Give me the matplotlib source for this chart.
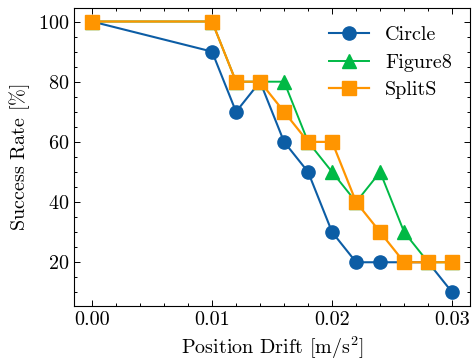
import matplotlib
matplotlib.use("Agg")
import matplotlib.pyplot as plt
from matplotlib.ticker import MultipleLocator

# position drift values
drift = [0.0, 0.01, 0.012, 0.014, 0.016, 0.018, 0.02, 0.022, 0.024, 0.026, 0.028, 0.03]

circle = [100, 90, 70, 80, 60, 50, 30, 20, 20, 20, 20, 10]
figure8 = [100, 100, 80, 80, 80, 60, 50, 40, 50, 30, 20, 20]
splits = [100, 100, 80, 80, 70, 60, 60, 40, 30, 20, 20, 20]

plt.rcParams.update({
    "font.family": "serif",
    "font.serif": ["cmr10"],
    "mathtext.fontset": "cm",
    "axes.formatter.use_mathtext": True,
    "font.size": 14.5,
    "axes.linewidth": 0.8,
    "xtick.direction": "in",
    "ytick.direction": "in",
    "xtick.top": True,
    "ytick.right": True,
    "xtick.major.size": 4.5,
    "ytick.major.size": 4.5,
    "xtick.minor.size": 2.5,
    "ytick.minor.size": 2.5,
    "xtick.major.width": 0.7,
    "ytick.major.width": 0.7,
    "xtick.minor.width": 0.7,
    "ytick.minor.width": 0.7,
})

fig, ax = plt.subplots(figsize=(4.74, 3.62), dpi=100)

ax.plot(drift, circle, marker="o", color="#0C5DA5", lw=1.5, ms=9.5, label="Circle")
ax.plot(drift, figure8, marker="^", color="#00B945", lw=1.4, ms=9.5, label="Figure8")
ax.plot(drift, splits, marker="s", color="#FF9500", lw=1.6, ms=9.5, label="SplitS")

ax.xaxis.set_major_locator(MultipleLocator(0.01))
ax.xaxis.set_minor_locator(MultipleLocator(0.002))
ax.yaxis.set_major_locator(MultipleLocator(20))
ax.yaxis.set_minor_locator(MultipleLocator(5))
ax.xaxis.set_major_formatter(matplotlib.ticker.FormatStrFormatter("%.2f"))

ax.set_xlabel(r"Position Drift [m/s$^2$]")
ax.set_ylabel(r"Success Rate [$\%$]")
ax.legend(frameon=False, loc="upper right", handlelength=2.0, labelspacing=0.47)

plt.subplots_adjust(left=0.156, right=0.992, top=0.978, bottom=0.155)
plt.savefig("out.png")
